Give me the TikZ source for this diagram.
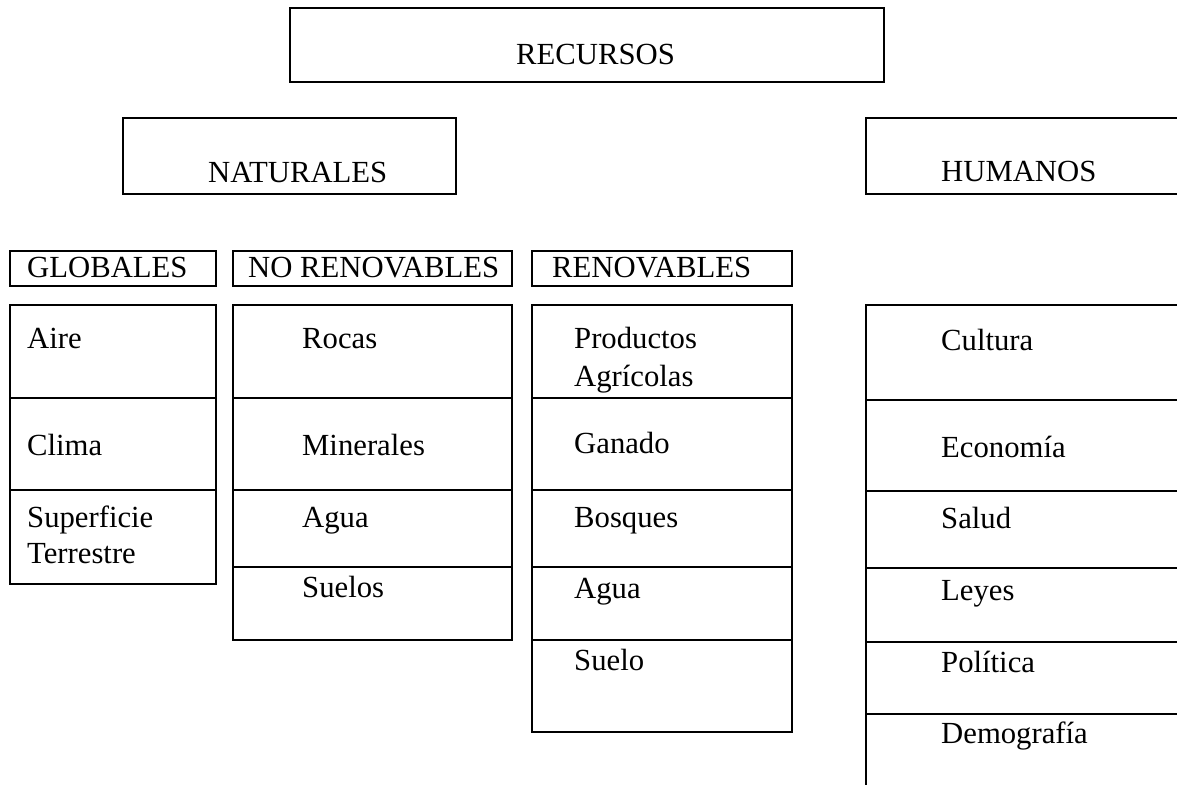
\documentclass[tikz,border=0pt]{standalone}
\usepackage{fontspec}
\setmainfont{Liberation Serif}
\begin{document}
\begin{tikzpicture}[x=1bp,y=-1bp,
  boxline/.style={draw=black,line width=1.6bp},
  lbl/.style={anchor=base west,inner sep=0pt,font=\fontsize{30.7bp}{36bp}\selectfont}]
\useasboundingbox (0,0) rectangle (1177,785);
% top boxes
\draw[boxline] (290,8) rectangle (884,82);
\draw[boxline] (123,118) rectangle (456,194);
\draw[boxline] (1177,118) -- (866,118) -- (866,194) -- (1177,194);
% headers
\draw[boxline] (10,251) rectangle (216,286);
\draw[boxline] (233,251) rectangle (512,286);
\draw[boxline] (532,251) rectangle (792,286);
% GLOBALES list
\draw[boxline] (10,305) rectangle (216,584);
\draw[boxline] (10,398) -- (216,398);
\draw[boxline] (10,490) -- (216,490);
% NO RENOVABLES list
\draw[boxline] (233,305) rectangle (512,640);
\foreach \yy in {398,490,567} \draw[boxline] (233,\yy) -- (512,\yy);
% RENOVABLES list
\draw[boxline] (532,305) rectangle (792,732);
\foreach \yy in {398,490,567,640} \draw[boxline] (532,\yy) -- (792,\yy);
% HUMANOS list
\draw[boxline] (866,785) -- (866,305) -- (1177,305);
\foreach \yy in {400,491,568,642,714} \draw[boxline] (866,\yy) -- (1177,\yy);
% texts
\node[lbl] (recursos) at (516,65) {RECURSOS};
\node[lbl] (naturales) at (208,182) {NATURALES};
\node[lbl] (humanos) at (941,181) {HUMANOS};
\node[lbl] (globales) at (27,277) {GLOBALES};
\node[lbl] (norenov) at (248,277) {NO RENOVABLES};
\node[lbl] (renov) at (552,277) {RENOVABLES};
\node[lbl] (aire) at (27,348) {Aire};
\node[lbl] (clima) at (27,455) {Clima};
\node[lbl] (superf) at (27,527) {Superficie};
\node[lbl] (terr) at (27,563) {Terrestre};
\node[lbl] (rocas) at (302,348) {Rocas};
\node[lbl] (minerales) at (302,455) {Minerales};
\node[lbl] (aguanr) at (302,527) {Agua};
\node[lbl] (suelos) at (302,597) {Suelos};
\node[lbl] (productos) at (574,348) {Productos};
\node[lbl] (agricolas) at (574,386) {Agrícolas};
\node[lbl] (ganado) at (574,453) {Ganado};
\node[lbl] (bosques) at (574,527) {Bosques};
\node[lbl] (aguar) at (574,598) {Agua};
\node[lbl] (suelo) at (574,670) {Suelo};
\node[lbl] (cultura) at (941,350) {Cultura};
\node[lbl] (economia) at (941,457) {Economía};
\node[lbl] (salud) at (941,528) {Salud};
\node[lbl] (leyes) at (941,600) {Leyes};
\node[lbl] (politica) at (941,672) {Política};
\node[lbl] (demografia) at (941,743) {Demografía};
\end{tikzpicture}
\end{document}
